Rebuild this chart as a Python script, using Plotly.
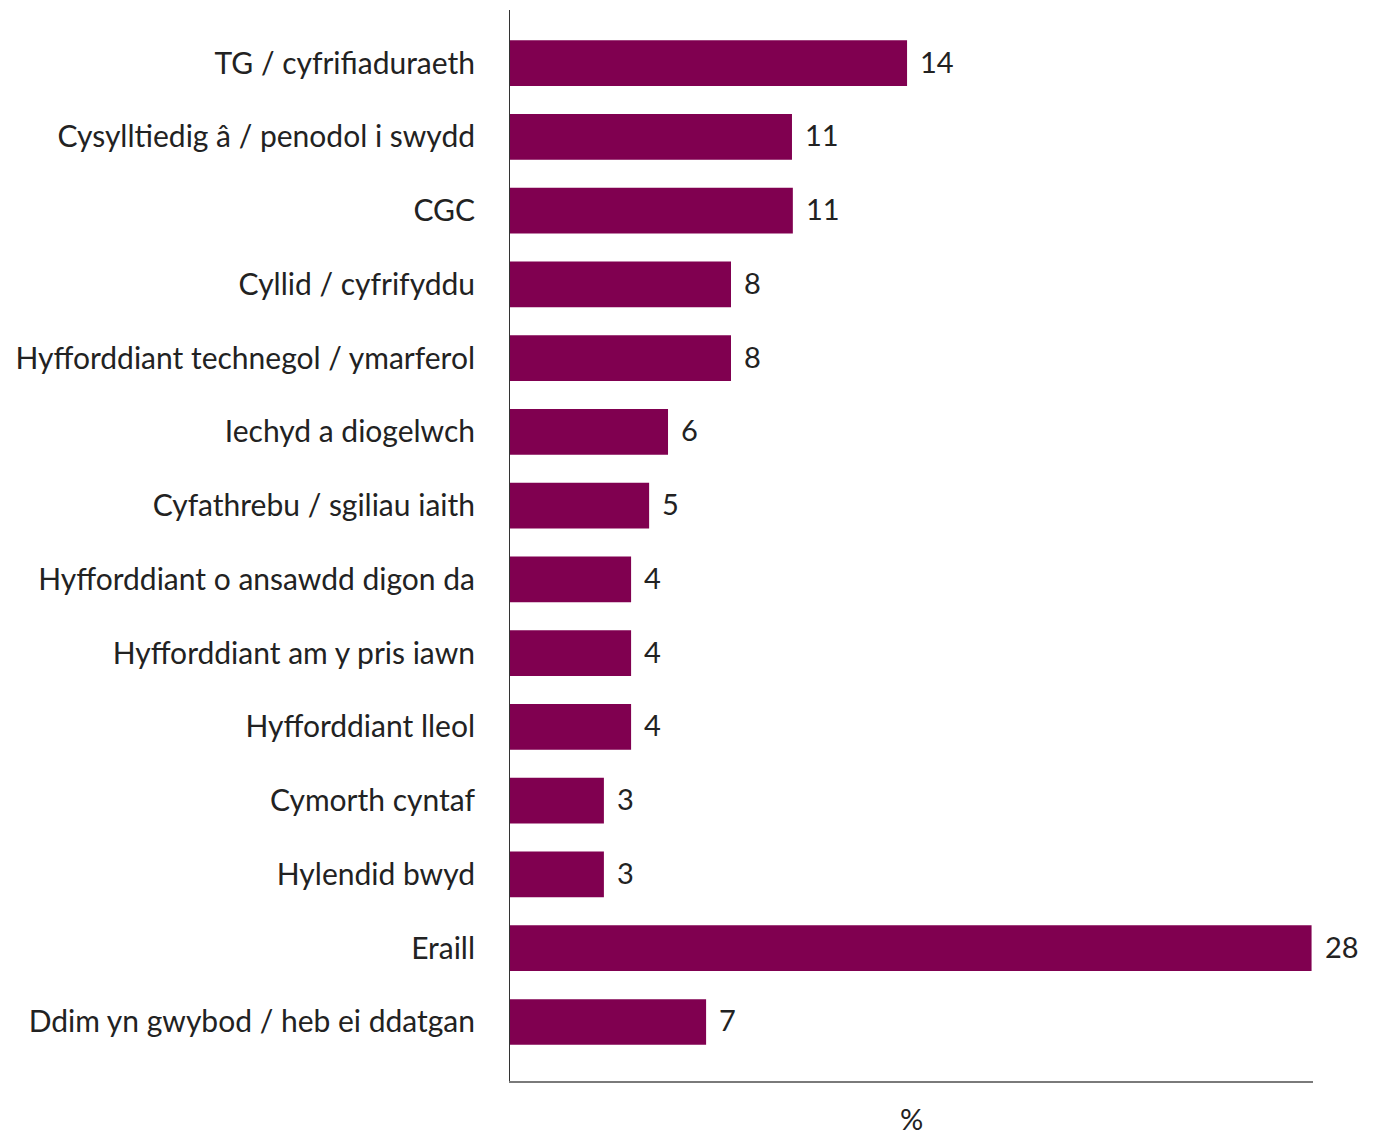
import plotly.graph_objects as go

categories = [
    "TG / cyfrifiaduraeth",
    "Cysylltiedig â / penodol i swydd",
    "CGC",
    "Cyllid / cyfrifyddu",
    "Hyfforddiant technegol / ymarferol",
    "Iechyd a diogelwch",
    "Cyfathrebu / sgiliau iaith",
    "Hyfforddiant o ansawdd digon da",
    "Hyfforddiant am y pris iawn",
    "Hyfforddiant lleol",
    "Cymorth cyntaf",
    "Hylendid bwyd",
    "Eraill",
    "Ddim yn gwybod / heb ei ddatgan",
]
# bar lengths as drawn in the reference (%)
bar_values = [13.87, 9.85, 9.88, 7.72, 7.72, 5.52, 4.86, 4.23, 4.23, 4.23, 3.28, 3.28, 28.0, 6.85]
# value labels as printed in the reference
value_labels = ["14", "11", "11", "8", "8", "6", "5", "4", "4", "4", "3", "3", "28", "7"]

FONT = "Lato"
TEXT = "#222222"
BAR = "#800050"

fig = go.Figure()
fig.add_trace(go.Bar(
    x=bar_values,
    y=categories,
    orientation="h",
    marker=dict(color=BAR, line=dict(width=0)),
    hoverinfo="x+y",
))

for v, c, lab in zip(bar_values, categories, value_labels):
    fig.add_annotation(
        x=v, y=c, text=lab, showarrow=False,
        xanchor="left", yanchor="middle", xshift=11, yshift=2,
        font=dict(family=FONT, size=29, color=TEXT),
    )

fig.update_layout(
    width=1370, height=1128,
    margin=dict(l=502, r=65, t=2, b=55),
    paper_bgcolor="white", plot_bgcolor="white",
    bargap=0.38,
    showlegend=False,
    font=dict(family=FONT, size=30, color=TEXT),
    xaxis=dict(
        range=[0, 28.05],
        showgrid=False, zeroline=False, showticklabels=False, ticks="",
        showline=True, linecolor="#7a7a7a", linewidth=2,
        title=dict(text="%", font=dict(family=FONT, size=29, color=TEXT), standoff=47),
        automargin=False,
    ),
    yaxis=dict(
        type="category",
        categoryorder="array", categoryarray=categories,
        range=[13.8, -0.72],
        showgrid=False, zeroline=False, ticks="",
        showline=True, linecolor="#333333", linewidth=1,
        ticklabelstandoff=28,
        tickfont=dict(family=FONT, size=30, color=TEXT),
        automargin=False,
    ),
)

fig.write_html("out.html")
